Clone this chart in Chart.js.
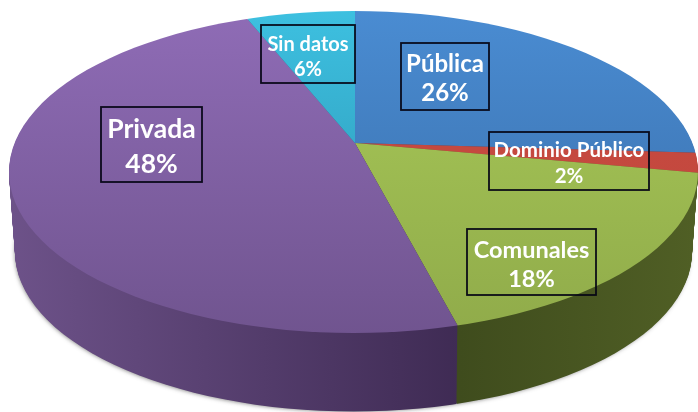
<!DOCTYPE html>
<html><head><meta charset="utf-8">
<style>html,body{margin:0;padding:0;background:#fff}#w{width:698px;height:412px;position:relative;overflow:hidden}canvas{display:block;filter:blur(.45px)}</style>
<script src="https://cdn.jsdelivr.net/npm/chart.js@4"></script>
</head><body><div id="w"><canvas id="c" width="698" height="412"></canvas></div>
<script>
const categories = ['Pública','Dominio Público','Comunales','Privada','Sin datos'];
const values = [26,2,18,48,6];
const topStops = [['#4a8cd2','#376ba6'],['#cb4c42','#bd453b'],['#a9ca58','#90ab4a'],['#8f6cb6','#70548f'],['#3dc0e0','#2a8fae']];
const wallStops = [['#2a4e78','#2a4e78'],['#7c2b25','#7c2b25'],['#3f4c1d','#505f25'],['#6d5289','#3f2b54'],['#1f6d85','#1f6d85']];
const labelBoxes = [[401,43,88,67,24,72,101],[489,132,160,58,20.5,157,183],[467,229,129,66,23.5,258,287],[101,107,101,75,26.5,138,173],[261,25,94,58,20,51,76]];

const apex = {x:355,y:143}, sx = 2.3, sy = 1.05;
const ell = {x:353.5,y:172,rx:344.5,ry:161}, depth = 80, shrink = 6;

function grad(ctx,chart,i,stops,vertical){
  const a = chart.chartArea, ccx=(a.left+a.right)/2, ccy=(a.top+a.bottom)/2;
  let g;
  if(vertical){ g = ctx.createLinearGradient(0,(10-apex.y)/sy+ccy,0,(335-apex.y)/sy+ccy); }
  else { const l = i===2?459:10, r = i===2?698:459;
    g = ctx.createLinearGradient((l-apex.x)/sx+ccx,0,(r-apex.x)/sx+ccx,0); }
  g.addColorStop(0,stops[0]); g.addColorStop(1,stops[1]);
  return g;
}
function clipEllipse(ctx,d){
  const k = d/depth;
  ctx.beginPath();
  ctx.ellipse(ell.x,ell.y+d,ell.rx-shrink*k,ell.ry-1.5*k,0,0,Math.PI*2);
  ctx.clip();
}
function place(ctx,arc,d){
  ctx.translate(apex.x,apex.y+d);
  ctx.scale(sx,sy);
  ctx.translate(-arc.x,-arc.y);
}
const pie3d = {
  id:'pie3d',
  beforeDatasetsDraw(chart){
    const ctx = chart.ctx, arcs = chart.getDatasetMeta(0).data;
    ctx.save();
    ctx.shadowColor='rgba(70,70,70,.7)'; ctx.shadowBlur=4; ctx.shadowOffsetX=-1; ctx.shadowOffsetY=1.5;
    ctx.fillStyle='#444';
    ctx.beginPath();
    ctx.ellipse(ell.x,ell.y+depth-1,ell.rx-shrink-1,ell.ry-2,0,0,Math.PI*2);
    ctx.fill();
    ctx.restore();
    for(let d=depth;d>=1;d--){
      ctx.save();
      clipEllipse(ctx,d);
      place(ctx,arcs[0],d);
      arcs.forEach((arc,i)=>{
        const view = Object.create(arc);
        view.options = Object.assign({},arc.options,{backgroundColor:grad(ctx,chart,i,wallStops[i],false)});
        arc.draw.call(view,ctx);
      });
      ctx.restore();
    }
    ctx.save();
    clipEllipse(ctx,0);
    place(ctx,arcs[0],0);
  },
  afterDatasetsDraw(chart){
    const ctx = chart.ctx;
    ctx.restore();
    ctx.save();
    ctx.textAlign='center'; ctx.textBaseline='alphabetic';
    labelBoxes.forEach((b,i)=>{
      ctx.strokeStyle='rgba(5,5,20,.95)'; ctx.lineWidth=1.8;
      ctx.strokeRect(b[0],b[1],b[2],b[3]);
      ctx.fillStyle='#fff';
      ctx.font='bold '+b[4]+'px Lato, "Open Sans", sans-serif';
      const cx = b[0]+b[2]/2;
      ctx.fillText(categories[i],cx,b[5]);
      ctx.fillText(values[i]+'%',cx,b[6]);
    });
    ctx.restore();
  }
};
new Chart(document.getElementById('c'),{
  type:'pie',
  data:{labels:categories,datasets:[{data:values,clip:false,borderWidth:0,
    backgroundColor:c=>c.chart.chartArea?grad(c.chart.ctx,c.chart,c.dataIndex,topStops[c.dataIndex],true):'#888'}]},
  options:{responsive:false,animation:false,events:[],layout:{padding:0},
    plugins:{legend:{display:false},tooltip:{enabled:false},title:{display:false}}},
  plugins:[pie3d]
});
</script></body></html>
